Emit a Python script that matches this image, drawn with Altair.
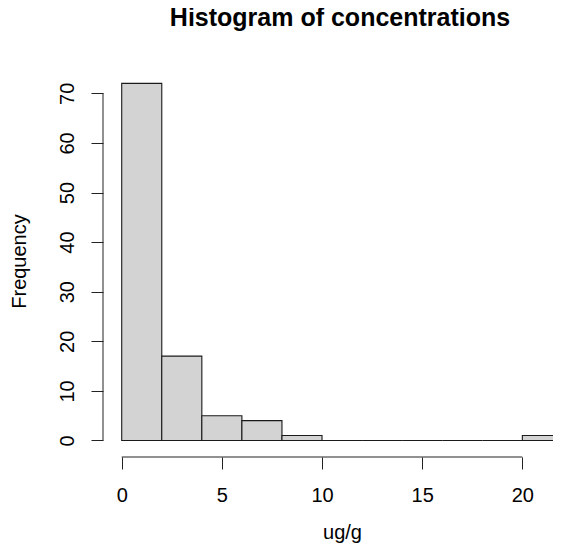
import altair as alt
import pandas as pd

# Histogram bins (ug/g) and their frequencies
bin_start = [0, 2, 4, 6, 8, 10, 12, 14, 16, 18, 20]
bin_end = [2, 4, 6, 8, 10, 12, 14, 16, 18, 20, 22]
counts = [72, 17, 5, 4, 1, 0, 0, 0, 0, 0, 1]

x_ticks = [0, 5, 10, 15, 20]
y_ticks = [0, 10, 20, 30, 40, 50, 60, 70]

title_text = "Histogram of concentrations"
x_title = "ug/g"
y_title = "Frequency"

FONT = "Liberation Sans"

df = pd.DataFrame({
    "start": bin_start,
    "end": bin_end,
    "count": counts,
    "base": [0] * len(counts),
})
xaxis_df = pd.DataFrame({"start": [x_ticks[0]], "end": [x_ticks[-1]]})
yaxis_df = pd.DataFrame({"count": [y_ticks[0]], "base": [y_ticks[-1]]})

W, H = 450, 387
xs = alt.Scale(domain=[-0.934, 21.53], nice=False, zero=False)
ys = alt.Scale(domain=[-3.33, 74.7], nice=False, zero=False)

x_axis = alt.Axis(
    title=x_title, values=x_ticks, format="d", domain=False, grid=False,
    tickSize=12, tickColor="#222222", tickWidth=1,
    labelFont=FONT, labelFontSize=20, labelColor="black",
    labelBaseline="alphabetic", labelPadding=32, labelFlush=False, labelOverlap=False,
    titleFont=FONT, titleFontSize=20, titleFontWeight="normal", titleColor="black",
    titleX=239, titleY=81, titleAlign="center", titleBaseline="alphabetic",
)
y_axis = alt.Axis(
    title=y_title, values=y_ticks, format="d", domain=False, grid=False,
    tickSize=12, tickColor="#222222", tickWidth=1,
    labelFont=FONT, labelFontSize=20, labelColor="black",
    labelAngle=270, labelAlign="center", labelBaseline="alphabetic",
    labelPadding=18, labelFlush=False, labelOverlap=False,
    titleFont=FONT, titleFontSize=20, titleFontWeight="normal", titleColor="black",
    titleAngle=270, titleX=-78, titleY=191, titleAlign="center", titleBaseline="alphabetic",
)

bars = alt.Chart(df).mark_rect(
    fill="#D3D3D3", stroke="#1a1a1a", strokeWidth=1.1, clip=True
).encode(
    x=alt.X("start:Q", scale=xs, axis=x_axis),
    x2="end:Q",
    y=alt.Y("count:Q", scale=ys, axis=y_axis),
    y2="base:Q",
)

x_line = alt.Chart(xaxis_df).mark_rule(color="#222222", strokeWidth=1).encode(
    x=alt.X("start:Q", scale=xs, axis=x_axis),
    x2="end:Q",
    y=alt.value(H),
)
y_line = alt.Chart(yaxis_df).mark_rule(color="#222222", strokeWidth=1).encode(
    y=alt.Y("count:Q", scale=ys, axis=y_axis),
    y2="base:Q",
    x=alt.value(0),
)

chart = alt.layer(bars, x_line, y_line).properties(
    width=W,
    height=H,
    title=alt.TitleParams(
        title_text, font=FONT, fontSize=25, fontWeight="bold", color="black",
        anchor="middle", frame="group", dx=12, baseline="alphabetic", offset=19,
    ),
    autosize=alt.AutoSizeParams(type="none"),
    padding={"left": 95, "top": 62, "right": 0, "bottom": 86},
).configure(background="white", view=alt.ViewConfig(stroke=None))

chart.save("out.html", embed_options={"renderer": "svg", "actions": False})
